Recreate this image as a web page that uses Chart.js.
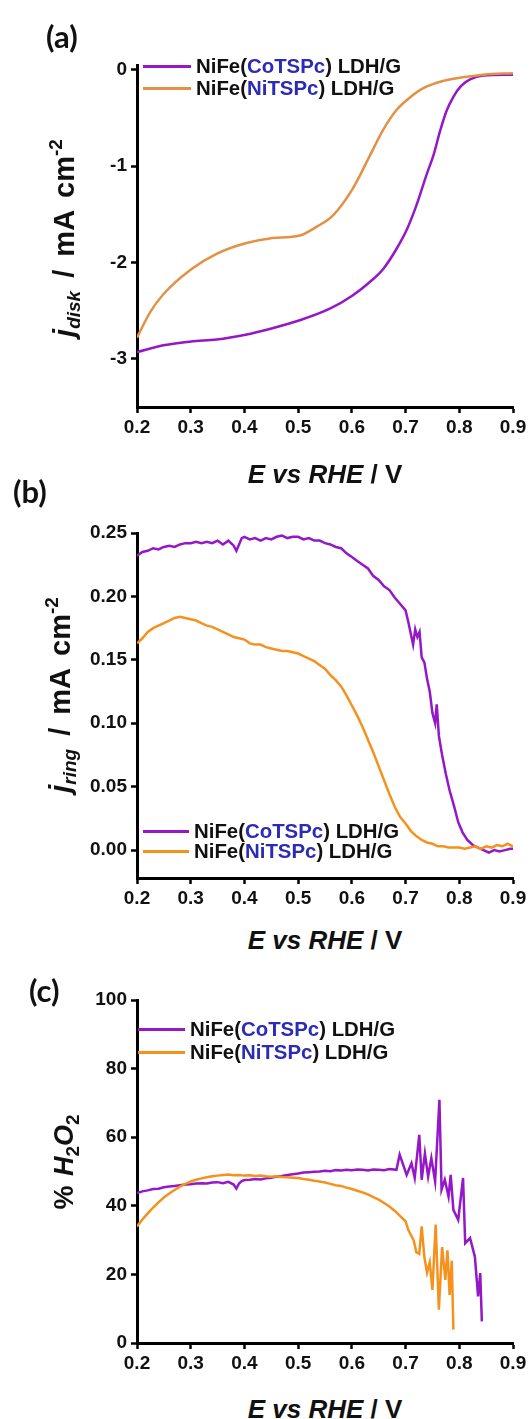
<!DOCTYPE html>
<html><head><meta charset="utf-8">
<script src="https://cdn.jsdelivr.net/npm/chart.js@4.4.0/dist/chart.umd.min.js"></script>
<style>
html,body{margin:0;padding:0;background:#fff;}
#wrap{position:relative;width:531px;height:1419px;overflow:hidden;font-family:"Liberation Sans",Arial,sans-serif;color:#111;}
canvas{position:absolute;left:0;}
.plabel{position:absolute;font-family:Lato,"Open Sans",sans-serif;font-weight:700;font-size:31px;line-height:34px;}
.xt{position:absolute;left:125px;width:400px;text-align:center;font-weight:700;font-size:26px;line-height:30px;}
.xt i{font-style:italic;}
.yt{position:absolute;width:320px;height:36px;line-height:36px;text-align:center;font-weight:700;font-size:29px;word-spacing:5px;transform:rotate(-90deg);white-space:nowrap;}
.yt sub{font-size:19px;vertical-align:-6px;line-height:0;}
.yt sup{font-size:19px;vertical-align:12px;line-height:0;}
.yt.small{font-size:27px;word-spacing:2px;}
.leg{position:absolute;font-weight:700;font-size:20.4px;line-height:21px;white-space:nowrap;}
.leg .ln{display:inline-block;width:48px;height:3px;vertical-align:middle;margin-right:5px;position:relative;top:-1px;}
.leg .b{color:#2b2bb5;}
</style></head>
<body><div id="wrap">
<canvas id="ca" width="531" height="445" style="top:0px"></canvas>
<canvas id="cb" width="531" height="445" style="top:470px"></canvas>
<canvas id="cc" width="531" height="420" style="top:960px"></canvas>

<div class="plabel" style="left:46px;top:19px">(a)</div>
<div class="plabel" style="left:13px;top:474px">(b)</div>
<div class="plabel" style="left:29px;top:973px">(c)</div>

<div class="xt" style="top:459px"><i>E vs RHE</i> / V</div>
<div class="xt" style="top:925px"><i>E vs RHE</i> / V</div>
<div class="xt" style="top:1394px"><i>E vs RHE</i> / V</div>

<div class="yt" style="left:-96px;top:220px"><i>j</i><sub><i>disk</i></sub> / mA cm<sup>-2</sup></div>
<div class="yt" style="left:-100px;top:677px"><i>j</i><sub><i>ring</i></sub> / mA cm<sup>-2</sup></div>
<div class="yt small" style="left:-96px;top:1144px">% <i>H</i><sub>2</sub><i>O</i><sub>2</sub></div>

<div class="leg" style="left:143px;top:56px"><span class="ln" style="background:#9417c8"></span>NiFe(<span class="b">CoTSPc</span>) LDH/G</div>
<div class="leg" style="left:143px;top:78px"><span class="ln" style="background:#e39146"></span>NiFe(<span class="b">NiTSPc</span>) LDH/G</div>

<div class="leg" style="left:143px;top:821px"><span class="ln" style="background:#9417c8;width:46px"></span>NiFe(<span class="b">CoTSPc</span>) LDH/G</div>
<div class="leg" style="left:143px;top:841px"><span class="ln" style="background:#f5921e;width:46px"></span>NiFe(<span class="b">NiTSPc</span>) LDH/G</div>

<div class="leg" style="left:138px;top:1019px"><span class="ln" style="background:#9417c8;width:47px"></span>NiFe(<span class="b">CoTSPc</span>) LDH/G</div>
<div class="leg" style="left:138px;top:1042px"><span class="ln" style="background:#f5921e;width:47px"></span>NiFe(<span class="b">NiTSPc</span>) LDH/G</div>
</div>
<script>
// ---- shared x axis ----
const xTickValues = [0.2,0.3,0.4,0.5,0.6,0.7,0.8,0.9];
const xTickLabels = ['0.2','0.3','0.4','0.5','0.6','0.7','0.8','0.9'];

// ---- panel (a): disk current ----
const aTickValues = [0,-1,-2,-3];
const aTickLabels = ['0','-1','-2','-3'];
const aCoE = [0.200,0.249,0.301,0.348,0.402,0.447,0.503,0.559,0.602,0.634,0.658,0.683,0.703,0.720,0.739,0.752,0.764,0.776,0.789,0.803,0.820,0.845,0.900];
const aCoJ = [-2.93,-2.86,-2.82,-2.80,-2.75,-2.69,-2.60,-2.48,-2.34,-2.20,-2.07,-1.86,-1.65,-1.41,-1.09,-0.885,-0.64,-0.43,-0.28,-0.17,-0.10,-0.06,-0.05];
const aNiE = [0.200,0.224,0.249,0.301,0.348,0.402,0.447,0.503,0.534,0.565,0.602,0.634,0.658,0.683,0.703,0.733,0.770,0.803,0.845,0.900];
const aNiJ = [-2.78,-2.52,-2.33,-2.07,-1.91,-1.80,-1.75,-1.72,-1.63,-1.51,-1.23,-0.885,-0.625,-0.417,-0.31,-0.19,-0.115,-0.08,-0.05,-0.035];

// ---- panel (b): ring current ----
const bTickValues = [0.25,0.20,0.15,0.10,0.05,0.00];
const bTickLabels = ['0.25','0.20','0.15','0.10','0.05','0.00'];
const bCoE = [0.200,0.210,0.220,0.230,0.240,0.250,0.260,0.270,0.280,0.290,0.300,0.310,0.320,0.330,0.340,0.350,0.360,0.370,0.380,0.385,0.390,0.395,0.400,0.410,0.420,0.430,0.440,0.450,0.460,0.470,0.480,0.490,0.500,0.510,0.520,0.530,0.540,0.550,0.560,0.570,0.580,0.590,0.600,0.610,0.620,0.630,0.640,0.650,0.660,0.670,0.680,0.690,0.700,0.705,0.710,0.714,0.718,0.722,0.726,0.730,0.735,0.740,0.745,0.750,0.755,0.758,0.762,0.768,0.775,0.782,0.790,0.798,0.806,0.815,0.825,0.835,0.845,0.855,0.865,0.875,0.885,0.895,0.900];
const bCoJ = [0.232,0.235,0.236,0.238,0.237,0.239,0.240,0.239,0.241,0.242,0.242,0.243,0.242,0.243,0.242,0.244,0.241,0.244,0.240,0.236,0.241,0.246,0.247,0.245,0.246,0.244,0.246,0.245,0.247,0.248,0.246,0.247,0.247,0.245,0.246,0.244,0.244,0.242,0.241,0.239,0.238,0.234,0.231,0.228,0.225,0.222,0.216,0.213,0.208,0.205,0.199,0.194,0.189,0.180,0.170,0.162,0.174,0.168,0.172,0.152,0.148,0.135,0.125,0.108,0.100,0.115,0.090,0.075,0.060,0.047,0.035,0.022,0.014,0.008,0.004,0.002,0.000,-0.002,0.000,-0.001,0.000,0.001,0.001];
const bNiE = [0.200,0.210,0.220,0.230,0.240,0.250,0.260,0.270,0.280,0.290,0.300,0.310,0.320,0.330,0.340,0.350,0.360,0.370,0.380,0.390,0.400,0.410,0.420,0.430,0.440,0.450,0.460,0.470,0.480,0.490,0.500,0.510,0.520,0.530,0.540,0.550,0.560,0.570,0.580,0.590,0.600,0.610,0.620,0.630,0.640,0.650,0.660,0.670,0.680,0.690,0.700,0.710,0.720,0.730,0.740,0.750,0.760,0.770,0.780,0.790,0.800,0.810,0.820,0.830,0.840,0.850,0.860,0.870,0.880,0.890,0.900];
const bNiJ = [0.163,0.167,0.172,0.175,0.177,0.179,0.181,0.183,0.184,0.183,0.182,0.181,0.179,0.177,0.176,0.174,0.172,0.170,0.168,0.167,0.166,0.163,0.162,0.162,0.160,0.159,0.158,0.157,0.157,0.156,0.155,0.153,0.151,0.149,0.146,0.143,0.138,0.134,0.129,0.122,0.114,0.106,0.097,0.087,0.077,0.066,0.055,0.044,0.034,0.026,0.021,0.015,0.011,0.008,0.006,0.005,0.003,0.003,0.002,0.002,0.002,0.001,0.002,0.003,0.001,0.003,0.002,0.004,0.003,0.005,0.003];

// ---- panel (c): % H2O2 ----
const cTickValues = [100,80,60,40,20,0];
const cTickLabels = ['100','80','60','40','20','0'];
const cCoE = [0.200,0.210,0.220,0.230,0.240,0.250,0.260,0.270,0.280,0.290,0.300,0.310,0.320,0.330,0.340,0.350,0.360,0.370,0.380,0.385,0.390,0.395,0.400,0.410,0.420,0.430,0.440,0.450,0.460,0.470,0.480,0.490,0.500,0.510,0.520,0.530,0.540,0.550,0.560,0.570,0.580,0.590,0.600,0.610,0.620,0.630,0.640,0.650,0.660,0.670,0.683,0.689,0.702,0.711,0.717,0.7255,0.730,0.736,0.742,0.748,0.755,0.763,0.767,0.773,0.780,0.784,0.789,0.798,0.807,0.811,0.820,0.829,0.835,0.839,0.842];
const cCoP = [43.7,44.2,44.5,44.9,45.0,45.4,45.6,45.8,46.0,46.2,46.3,46.5,46.6,46.5,46.8,46.9,46.6,47.0,46.2,45.0,46.5,47.2,47.5,47.6,47.8,47.7,48.0,48.2,48.5,48.7,49.0,49.2,49.4,49.7,49.8,49.9,50.0,50.2,50.1,50.4,50.3,50.5,50.4,50.6,50.5,50.3,50.6,50.5,50.4,50.7,50.5,54.9,49.0,52.4,48.1,60.7,47.6,55.3,48.5,53.9,47.1,70.9,44.7,47.6,42.7,49.0,38.8,35.9,48.1,29.1,30.6,25.2,13.6,20.4,6.3];
const cNiE = [0.200,0.210,0.220,0.230,0.240,0.250,0.260,0.270,0.280,0.290,0.300,0.310,0.320,0.330,0.340,0.350,0.360,0.370,0.380,0.390,0.400,0.410,0.420,0.430,0.440,0.450,0.460,0.470,0.480,0.490,0.500,0.510,0.520,0.530,0.540,0.550,0.560,0.570,0.580,0.590,0.600,0.610,0.620,0.630,0.640,0.650,0.660,0.670,0.680,0.690,0.700,0.705,0.710,0.715,0.720,0.7255,0.730,0.735,0.740,0.745,0.750,0.756,0.762,0.768,0.774,0.778,0.782,0.786,0.789];
const cNiP = [34.0,36.0,37.8,39.5,41.0,42.4,43.6,44.6,45.6,46.4,47.1,47.6,48.0,48.3,48.6,48.8,49.0,49.1,48.9,49.0,48.8,48.9,48.7,48.8,48.6,48.5,48.6,48.4,48.3,48.2,48.1,47.8,47.6,47.3,47.1,46.8,46.4,46.0,45.8,45.3,44.9,44.4,43.9,43.3,42.5,41.8,40.8,39.8,38.5,37.0,35.5,33.0,31.5,30.0,26.5,26.0,34.0,25.0,20.5,23.5,15.5,34.5,9.7,28.0,18.4,27.0,14.0,24.0,3.9];

const PURPLE = '#9417c8';
const ORANGE_A = '#e39146';
const ORANGE = '#f5921e';

function pts(xs, ys){ return xs.map((x,i)=>({x:x, y:ys[i]})); }

const tickFont = {family:'"Liberation Sans", Arial, sans-serif', weight:'bold', size:19};

function makeChart(id, cfg){
  new Chart(document.getElementById(id), {
    type:'line',
    data:{datasets: cfg.datasets},
    options:{
      responsive:false, animation:false, devicePixelRatio:1,
      layout:{padding:{top:cfg.padTop, left:0, right:18, bottom:0}},
      plugins:{legend:{display:false}, tooltip:{enabled:false}},
      elements:{point:{radius:0}},
      scales:{
        x:{type:'linear', min:0.2, max:0.9,
          afterBuildTicks:s=>{ s.ticks = xTickValues.map(v=>({value:v})); },
          afterFit:s=>{ s.height = cfg.xH; },
          grid:{drawOnChartArea:false, drawTicks:true, tickLength:6, tickWidth:2.5, color:'#000'},
          border:{display:true, width:3, color:'#000'},
          ticks:{color:'#111', font:tickFont, padding:3, maxRotation:0, autoSkip:false,
            callback:(v,i)=>xTickLabels[i]}
        },
        y:{type:'linear', min:cfg.yMin, max:cfg.yMax,
          afterBuildTicks:s=>{ s.ticks = cfg.yTicks.map(v=>({value:v})); },
          afterFit:s=>{ s.width = 137; },
          grid:{drawOnChartArea:false, drawTicks:true, tickLength:6, tickWidth:2.5, color:'#000'},
          border:{display:true, width:3, color:'#000'},
          ticks:{color:'#111', font:tickFont, padding:4, autoSkip:false,
            callback:(v,i)=>cfg.yLabels[i]}
        }
      }
    }
  });
}

makeChart('ca', {
  padTop:65, xH:38, yMin:-3.5, yMax:0.05, yTicks:aTickValues, yLabels:aTickLabels,
  datasets:[
    {data:pts(aNiE,aNiJ), borderColor:ORANGE_A, borderWidth:2.5, tension:0.4, cubicInterpolationMode:'monotone', fill:false},
    {data:pts(aCoE,aCoJ), borderColor:PURPLE, borderWidth:2.5, tension:0.4, cubicInterpolationMode:'monotone', fill:false}
  ]
});
makeChart('cb', {
  padTop:63, xH:37, yMin:-0.022, yMax:0.25, yTicks:bTickValues, yLabels:bTickLabels,
  datasets:[
    {data:pts(bNiE,bNiJ), borderColor:ORANGE, borderWidth:2.5, tension:0, fill:false},
    {data:pts(bCoE,bCoJ), borderColor:PURPLE, borderWidth:2.5, tension:0, fill:false}
  ]
});
makeChart('cc', {
  padTop:40, xH:37, yMin:0, yMax:100, yTicks:cTickValues, yLabels:cTickLabels,
  datasets:[
    {data:pts(cNiE,cNiP), borderColor:ORANGE, borderWidth:2.5, tension:0, fill:false},
    {data:pts(cCoE,cCoP), borderColor:PURPLE, borderWidth:2.5, tension:0, fill:false}
  ]
});
</script>
</body></html>
